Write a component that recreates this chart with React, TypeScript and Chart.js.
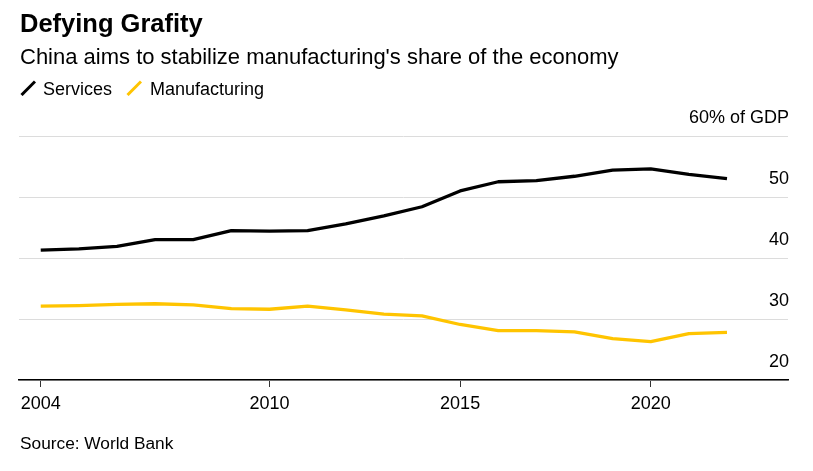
import React, { useEffect, useRef } from 'react';
import { Chart, registerables } from 'chart.js';

Chart.register(...registerables);

const years = [2004, 2005, 2006, 2007, 2008, 2009, 2010, 2011, 2012, 2013, 2014, 2015, 2016, 2017, 2018, 2019, 2020, 2021, 2022];
const services = [41.3, 41.5, 41.9, 43.0, 43.0, 44.5, 44.4, 44.5, 45.6, 46.9, 48.4, 51.0, 52.5, 52.7, 53.4, 54.4, 54.6, 53.7, 53.0];
const manufacturing = [32.1, 32.2, 32.4, 32.5, 32.3, 31.7, 31.6, 32.1, 31.5, 30.8, 30.5, 29.1, 28.1, 28.1, 27.9, 26.8, 26.3, 27.6, 27.8];
const xTicks = [2004, 2010, 2015, 2020];
const yTicks = [20, 30, 40, 50, 60];

const FONT = '"Liberation Sans", Arial, Helvetica, sans-serif';
const YELLOW = '#ffc400';

export default function App() {
  const ref = useRef<HTMLCanvasElement | null>(null);

  useEffect(() => {
    if (!ref.current) return;
    const chart = new Chart(ref.current, {
      type: 'line',
      data: {
        datasets: [
          {
            label: 'Services',
            data: years.map((y, i) => ({ x: y, y: services[i] })),
            borderColor: '#000',
            borderWidth: 3.3,
            pointRadius: 0,
            tension: 0,
            borderJoinStyle: 'round',
          },
          {
            label: 'Manufacturing',
            data: years.map((y, i) => ({ x: y, y: manufacturing[i] })),
            borderColor: YELLOW,
            borderWidth: 3.3,
            pointRadius: 0,
            tension: 0,
            borderJoinStyle: 'round',
          },
        ],
      },
      options: {
        responsive: false,
        animation: false,
        devicePixelRatio: 1,
        layout: { padding: { top: 136, left: 19, right: 25, bottom: 51 } },
        plugins: { legend: { display: false }, tooltip: { enabled: false } },
        scales: {
          x: {
            type: 'linear',
            min: 2003.43,
            max: 2023.6,
            afterBuildTicks: (s: any) => {
              s.ticks = xTicks.map((v) => ({ value: v }));
            },
            afterFit: (s: any) => {
              s.height = 40;
            },
            grid: { drawOnChartArea: false, drawTicks: true, tickLength: 7, color: '#333', lineWidth: 1 },
            border: { display: true, color: '#000', width: 1.5 },
            ticks: {
              color: '#000',
              font: { family: FONT, size: 18 },
              padding: 6,
              maxRotation: 0,
              autoSkip: false,
              callback: (v: any) => String(v),
            },
          },
          y: {
            position: 'right',
            min: 20,
            max: 60,
            afterBuildTicks: (s: any) => {
              s.ticks = yTicks.map((v) => ({ value: v }));
            },
            afterFit: (s: any) => {
              s.width = 0;
            },
            grid: { color: '#dcdcdc', lineWidth: 1, drawTicks: false },
            border: { display: false },
            ticks: {
              mirror: true,
              padding: 1,
              labelOffset: -17.5,
              color: '#000',
              font: { family: FONT, size: 18 },
              callback: (v: any) => (v === 60 ? '60% of GDP' : String(v)),
            },
          },
        },
      },
    } as any);
    return () => chart.destroy();
  }, []);

  const text: React.CSSProperties = {
    position: 'absolute',
    fontFamily: FONT,
    color: '#000',
    whiteSpace: 'nowrap',
    margin: 0,
  };

  return (
    <div style={{ position: 'fixed', left: 0, top: 0, width: 813, height: 471, background: '#fff', overflow: 'hidden' }}>
      <canvas ref={ref} width={813} height={471} style={{ position: 'absolute', left: 0, top: 0, width: 813, height: 471 }} />
      <div style={{ ...text, left: 20, top: 11.4, fontSize: 25.5, lineHeight: '25.5px', fontWeight: 'bold' }}>Defying Grafity</div>
      <div style={{ ...text, left: 20, top: 46.4, fontSize: 22, lineHeight: '22px' }}>
        China aims to stabilize manufacturing's share of the economy
      </div>
      <svg style={{ position: 'absolute', left: 20, top: 80 }} width={16} height={16}>
        <line x1={1.5} y1={15} x2={15} y2={1.5} stroke="#000" strokeWidth={3} />
      </svg>
      <div style={{ ...text, left: 43, top: 79.8, fontSize: 18, lineHeight: '18px' }}>Services</div>
      <svg style={{ position: 'absolute', left: 126, top: 80 }} width={16} height={16}>
        <line x1={1.5} y1={15} x2={15} y2={1.5} stroke={YELLOW} strokeWidth={3} />
      </svg>
      <div style={{ ...text, left: 150, top: 79.8, fontSize: 18, lineHeight: '18px' }}>Manufacturing</div>
      <div style={{ ...text, left: 20, top: 434.6, fontSize: 17.3, lineHeight: '17.3px' }}>Source: World Bank</div>
    </div>
  );
}
